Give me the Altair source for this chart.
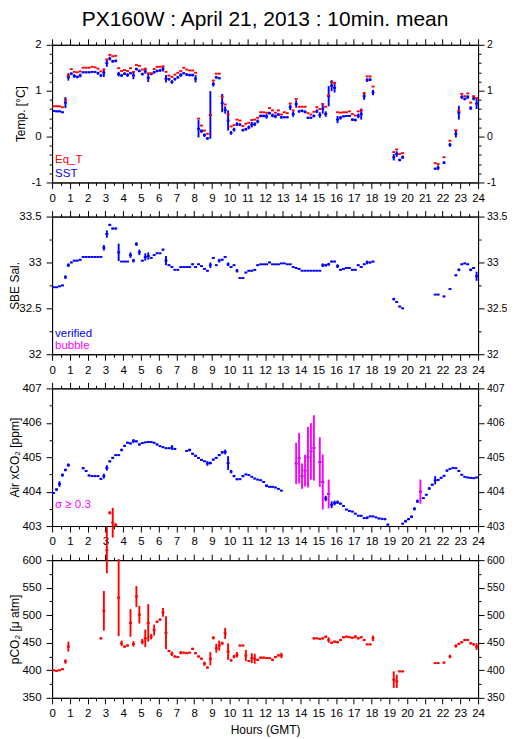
import altair as alt
import pandas as pd

FONT = "Liberation Sans"
BLUE = "#0000ff"
RED = "#ff0000"
MAGENTA = "#ff00ff"
SW = 1.9

TITLE = "PX160W : April 21, 2013 : 10min. mean"
X_TITLE = "Hours (GMT)"

# ---- 10-minute bins (bin k starts k*10 minutes after 00:00 GMT) ----
ts_bins = list(range(0, 109)) + [115, 116, 117, 118, 129, 130, 132, 134] + list(range(136, 144))

sst = [
    0.56, 0.55, 0.55, 0.53, 0.74, 1.30, 1.37, 1.32, 1.30, 1.33,
    1.40, 1.40, 1.40, 1.41, 1.41, 1.38, 1.33, 1.39, 1.60, 1.70,
    1.64, 1.65, 1.36, 1.33, 1.37, 1.34, 1.38, 1.33, 1.47, 1.43,
    1.36, 1.42, 1.28, 1.36, 1.40, 1.43, 1.44, 1.47, 1.26, 1.25,
    1.19, 1.25, 1.29, 1.34, 1.38, 1.35, 1.34, 1.34, 1.26, 0.17,
    0.12, 0.03, -0.04, 0.47, 1.14, 1.29, 1.27, 0.73, 0.58, 0.35,
    0.08, 0.15, 0.27, 0.26, 0.14, 0.16, 0.20, 0.26, 0.27, 0.33,
    0.45, 0.45, 0.44, 0.51, 0.46, 0.44, 0.48, 0.42, 0.42, 0.42,
    0.64, 0.49, 0.71, 0.55, 0.56, 0.54, 0.41, 0.41, 0.45, 0.55,
    0.47, 0.61, 0.49, 0.88, 1.11, 1.06, 0.37, 0.41, 0.44, 0.45,
    0.45, 0.37, 0.36, 0.45, 0.49, 0.88, 1.23, 1.24, 0.96,
    -0.45, -0.38, -0.51, -0.45,
    -0.70, -0.68, -0.57, -0.18,
    0.06, 0.52, 0.86, 0.82, 0.86, 0.62, 0.83, 0.72,
]
sst_sd = [
    .02, .02, .02, .02, .12, .08, .03, .04, .03, .04,
    .02, .02, .02, .02, .02, .03, .03, .09, .08, .04,
    .03, .03, .05, .03, .03, .04, .02, .08, .03, .03,
    .03, .05, .09, .02, .03, .03, .03, .05, .08, .03,
    .04, .03, .03, .04, .02, .03, .03, .03, .08, .19,
    .04, .04, .03, .52, .05, .03, .02, .20, .08, .22,
    .04, .04, .04, .03, .03, .03, .04, .06, .04, .04,
    .03, .03, .05, .03, .04, .04, .03, .03, .02, .02,
    .06, .06, .08, .03, .03, .03, .02, .02, .03, .04,
    .06, .11, .06, .22, .12, .10, .08, .04, .02, .02,
    .02, .03, .03, .05, .12, .08, .04, .03, .06,
    .07, .06, .03, .04,
    .02, .05, .03, .04,
    .08, .15, .04, .03, .04, .04, .04, .12,
]
eq_t = [
    0.66, 0.66, 0.66, 0.64, 0.80, 1.33, 1.47, 1.41, 1.40, 1.42,
    1.50, 1.50, 1.50, 1.52, 1.51, 1.48, 1.42, 1.46, 1.68, 1.78,
    1.75, 1.76, 1.49, 1.43, 1.45, 1.43, 1.49, 1.41, 1.56, 1.54,
    1.46, 1.48, 1.38, 1.38, 1.47, 1.52, 1.52, 1.53, 1.41, 1.33,
    1.30, 1.35, 1.39, 1.43, 1.50, 1.46, 1.44, 1.44, 1.39, 0.39,
    0.24, 0.13, 0.06, 0.47, 1.22, 1.37, 1.37, 0.87, 0.70, 0.48,
    0.22, 0.25, 0.37, 0.35, 0.23, 0.28, 0.30, 0.36, 0.37, 0.41,
    0.53, 0.53, 0.52, 0.62, 0.57, 0.52, 0.57, 0.48, 0.53, 0.51,
    0.72, 0.57, 0.82, 0.65, 0.65, 0.65, 0.51, 0.48, 0.54, 0.64,
    0.60, 0.71, 0.65, 0.90, 1.19, 1.17, 0.53, 0.52, 0.53, 0.53,
    0.55, 0.49, 0.46, 0.55, 0.58, 0.95, 1.31, 1.31, 1.09,
    -0.34, -0.28, -0.38, -0.36,
    -0.58, -0.60, -0.45, -0.09,
    0.14, 0.56, 0.93, 0.88, 0.94, 0.74, 0.88, 0.84,
]

sal = [
    32.73, 32.73, 32.74, 32.75, 32.84, 32.97, 33.00, 33.02, 33.02, 33.03,
    33.06, 33.06, 33.06, 33.06, 33.06, 33.06, 33.06, 33.16, 33.31, 33.41,
    33.37, 33.37, 33.11, 33.01, 33.01, 33.01, 33.08, 33.02, 33.20, 33.11,
    33.02, 33.06, 33.07, 33.05, 33.08, 33.10, 33.10, 33.14, 33.02, 32.97,
    32.95, 32.92, 32.92, 32.95, 32.95, 32.95, 32.95, 32.98, 32.95, 32.98,
    32.96, 32.93, 32.91, 32.97, 33.05, 32.97, 33.02, 33.03, 33.06, 32.98,
    32.95, 32.97, 32.91, 32.83, 32.83, 32.89, 32.91, 32.91, 32.92, 32.97,
    32.98, 32.98, 32.98, 33.00, 32.98, 32.98, 32.98, 32.99, 32.99, 32.98,
    32.98, 32.95, 32.94, 32.93, 32.91, 32.91, 32.91, 32.91, 32.91, 32.91,
    32.91, 32.97, 32.97, 32.98, 33.01, 33.01, 32.96, 32.92, 32.93, 32.94,
    32.94, 32.92, 32.92, 32.97, 32.95, 32.98, 33.00, 33.00, 33.01,
    32.60, 32.57, 32.52, 32.50,
    32.65, 32.65, 32.63, 32.71,
    32.86, 32.92, 32.98, 32.99, 32.98, 32.92, 32.94, 32.85,
]
sal_sd = [
    .004, .004, .004, .008, .02, .02, .008, .008, .008, .008,
    .004, .004, .004, .004, .004, .004, .004, .03, .04, .01,
    .01, .01, .095, .004, .004, .004, .03, .02, .02, .03,
    .008, .04, .04, .008, .008, .008, .004, .01, .05, .008,
    .008, .004, .004, .004, .004, .004, .004, .01, .008, .008,
    .008, .008, .008, .03, .008, .008, .02, .01, .01, .02,
    .008, .008, .02, .008, .004, .008, .008, .008, .008, .008,
    .004, .004, .004, .008, .004, .004, .004, .004, .004, .004,
    .004, .008, .008, .008, .004, .004, .004, .004, .004, .004,
    .004, .02, .015, .015, .01, .008, .02, .008, .004, .004,
    .004, .008, .004, .008, .008, .008, .02, .01, .008,
    .015, .01, .008, .008,
    .004, .004, .008, .01,
    .01, .015, .008, .008, .008, .015, .01, .05,
]

xco2_bins = (list(range(0, 6)) + list(range(10, 42)) + list(range(45, 78))
             + list(range(82, 89)) + list(range(90, 114)) + list(range(118, 144)))
xco2 = [
    403.96, 404.06, 404.22, 404.48, 404.63, 404.77,
    404.68, 404.60, 404.47, 404.45, 404.45, 404.45, 404.37, 404.45, 404.69, 404.88,
    404.98, 405.06, 405.06, 405.21, 405.33, 405.42, 405.40, 405.47, 405.46, 405.37,
    405.41, 405.43, 405.44, 405.44, 405.42, 405.37, 405.32, 405.29, 405.26, 405.26,
    405.28, 405.24,
    405.18, 405.21, 405.10, 405.04, 404.98, 404.92, 404.88, 404.82, 404.83, 404.93,
    404.98, 405.06, 405.14, 405.15, 404.83, 404.58, 404.45, 404.36, 404.36, 404.45,
    404.50, 404.48, 404.43, 404.38, 404.35, 404.33, 404.28, 404.17, 404.14, 404.14,
    404.12, 404.08, 404.03,
    404.82, 404.97, 404.45, 404.61, 405.00, 405.17, 405.27,
    404.86, 404.28, 403.80, 403.93, 403.62, 403.67, 403.69, 403.65, 403.58, 403.48,
    403.44, 403.42, 403.36, 403.30, 403.30, 403.23, 403.24, 403.28, 403.28, 403.25,
    403.22, 403.21, 403.20, 403.04,
    403.07, 403.14, 403.20, 403.27, 403.50, 403.72, 404.00, 403.81, 403.91, 404.09,
    404.20, 404.33, 404.34, 404.40, 404.46, 404.61, 404.66, 404.69, 404.68, 404.60,
    404.49, 404.43, 404.41, 404.40, 404.39, 404.41,
]
xco2_sd = [
    .03, .04, .08, .05, .04, .05,
    .03, .03, .03, .02, .02, .02, .03, .07, .08, .03,
    .03, .02, .02, .04, .03, .03, .03, .06, .03, .03,
    .02, .02, .02, .02, .02, .03, .02, .02, .02, .02,
    .07, .03,
    .02, .04, .03, .03, .02, .03, .02, .07, .04, .03,
    .03, .03, .04, .07, .20, .05, .03, .03, .02, .03,
    .02, .02, .02, .02, .02, .02, .02, .04, .02, .02,
    .02, .02, .02,
    .60, .73, .37, .46, .88, .82, .95,
    .72, .80, .08, .42, .10, .07, .05, .03, .02, .02,
    .02, .02, .02, .02, .02, .02, .04, .02, .02, .02,
    .02, .02, .03, .03,
    .02, .04, .03, .04, .05, .05, .35, .02, .02, .04,
    .03, .12, .03, .03, .02, .03, .02, .02, .02, .03,
    .02, .02, .02, .02, .02, .02,
]

pco2_bins = (list(range(0, 6)) + list(range(16, 78)) + list(range(88, 109))
             + [115, 116, 117, 118, 129, 130, 132, 134] + list(range(136, 144)))
pco2 = [
    400, 399, 400, 402, 416, 443,
    458, 508, 618, 686, 668, 664, 532, 449, 443, 445,
    486, 448, 534, 501, 452, 458, 486, 461, 473, 488,
    492, 505, 468, 435, 430, 425, 424, 432, 432, 431,
    432, 439, 431, 425, 421, 412, 405, 421, 459, 440,
    445, 449, 467, 434, 418, 425, 428, 445, 445, 427,
    417, 422, 421, 419, 423, 423, 422, 422, 419, 424,
    427, 427,
    458, 458, 457, 458, 461, 455, 450, 452, 451, 455,
    460, 461, 460, 459, 461, 458, 460, 455, 447, 447, 458,
    383, 380, 398, 398,
    413, 413, 414, 425,
    444, 448, 451, 455, 455, 449, 447, 443,
]
pco2_sd = [
    1.5, 1.5, 1.5, 2, 4, 9,
    2, 36, 42, 3, 27, 3, 70, 5, 2, 2,
    25, 5, 19, 16, 5, 16, 34, 5, 10, 2,
    2, 8, 30, 2, 4, 2, 1.5, 3, 1.5, 1.5,
    1.5, 2, 2, 2, 2, 4, 2, 12, 3, 8,
    9, 3, 10, 15, 2, 3, 5, 1.5, 1.5, 10,
    1.5, 9, 9, 2, 2, 2, 1.5, 1.5, 2, 2,
    2, 5,
    2, 1.5, 1.5, 2, 2, 5, 2, 2, 2, 2,
    2, 2, 1.5, 2, 3, 2, 2, 2, 1.5, 1.5, 5,
    15, 12, 1.5, 1.5,
    1, 1, 1.5, 3,
    3, 2, 2, 2, 2, 2, 2, 6,
]

# axis tick values
hour_ticks = [i / 2 for i in range(49)]
temp_ticks = [round(-1 + 0.2 * i, 1) for i in range(16)]
sal_ticks = [32 + 0.25 * i for i in range(7)]
xco2_ticks = [403 + 0.5 * i for i in range(9)]
pco2_ticks = [350 + 25 * i for i in range(11)]


def frame(bins, vals, sds):
    df = pd.DataFrame({"k": bins, "v": vals, "sd": sds})
    df["t0"] = df.k / 6
    df["t1"] = (df.k + 1) / 6
    df["tc"] = (df.k + 0.5) / 6
    df["lo"] = df.v - df.sd
    df["hi"] = df.v + df.sd
    return df


W, H = 427, 138
INT_T = "abs(datum.value - round(datum.value)) < 1e-6"
HALF_T = "abs(datum.value * 2 - round(datum.value * 2)) < 1e-6"
FIFTY_T = "datum.value % 50 === 0"

COMMON = dict(grid=False, labelOverlap=False, labelFlush=False, domainColor="black",
              tickColor="black", labelColor="black", labelFont=FONT,
              titleFont=FONT, titleFontSize=12, titleFontWeight="normal", titleColor="black",
              domainWidth=1, tickWidth=1)


def tsize(test):
    return {"condition": {"test": test, "value": 6}, "value": 3}


def lexpr(test):
    return f"({test}) ? '' + datum.value : ''"


def xaxis(orient, labels, title=None):
    kw = dict(COMMON)
    if title:
        kw.update(title=title, titleX=W / 2, titleY=36, titleBaseline="alphabetic",
                  titleAlign="center", titleAngle=0)
    else:
        kw.update(title=None)
    return alt.Axis(orient=orient, values=hour_ticks, labels=labels, labelExpr=lexpr(INT_T),
                    tickSize=tsize(INT_T), labelPadding=4, labelFontSize=11.5, **kw)


def yaxis(orient, values, test, title=None, tx=0):
    kw = dict(COMMON)
    if orient == "left":
        kw.update(title=title, titleX=tx, titleY=H / 2, titleAngle=270, titleAlign="center",
                  titleBaseline="middle", labelPadding=5, labelFontSize=11.5)
    else:
        kw.update(title=None, labelPadding=2.5, labelFontSize=10.5)
    return alt.Axis(orient=orient, values=values, labelExpr=lexpr(test), tickSize=tsize(test), **kw)


xs = alt.Scale(domain=[0, 24], nice=False, zero=False)


def hbar(df, ys, color, axes, ytitle=None, yvals=None, ytest=None, tx=0, xtitle=None):
    if axes:
        xa = xaxis("bottom", True, xtitle)
        ya = yaxis("left", yvals, ytest, ytitle, tx)
    else:
        xa = None
        ya = None
    return alt.Chart(df).mark_rule(color=color, strokeWidth=SW).encode(
        x=alt.X("t0:Q", scale=xs, axis=xa), x2="t1:Q",
        y=alt.Y("v:Q", scale=ys, axis=ya))


def vbar(df, ys, color, yvals, ytest):
    return alt.Chart(df).mark_rule(strokeWidth=SW).encode(
        x=alt.X("tc:Q", scale=xs, axis=xaxis("top", False)),
        y=alt.Y("lo:Q", scale=ys, axis=yaxis("right", yvals, ytest)), y2="hi:Q",
        color=color)


def label(txt, color, y):
    return alt.Chart(pd.DataFrame({"t": [txt]})).mark_text(
        align="left", baseline="alphabetic", font=FONT, fontSize=11.5, color=color
    ).encode(x=alt.value(3), y=alt.value(y), text="t:N")


# ---- panel 1: temperature ----
ys_t = alt.Scale(domain=[-1, 2], nice=False, zero=False)
sst_df = frame(ts_bins, sst, sst_sd)
eq_df = frame(ts_bins, eq_t, [0] * len(eq_t))
p1 = alt.layer(
    hbar(sst_df, ys_t, BLUE, True, "Temp. [°C]", temp_ticks, INT_T, -32),
    vbar(sst_df, ys_t, alt.value(BLUE), temp_ticks, INT_T),
    hbar(eq_df, ys_t, RED, False),
    label("Eq_T", RED, 118.7),
    label("SST", BLUE, 132.7),
).resolve_axis(x="independent", y="independent").properties(width=W, height=H)

# ---- panel 2: salinity ----
ys_s = alt.Scale(domain=[32, 33.5], nice=False, zero=False)
sal_df = frame(ts_bins, sal, sal_sd)
p2 = alt.layer(
    hbar(sal_df, ys_s, BLUE, True, "SBE Sal.", sal_ticks, HALF_T, -37.5),
    vbar(sal_df, ys_s, alt.value(BLUE), sal_ticks, HALF_T),
    label("verified", BLUE, 120.3),
    label("bubble", MAGENTA, 132.3),
).resolve_axis(x="independent", y="independent").properties(width=W, height=H)

# ---- panel 3: air xCO2 ----
ys_a = alt.Scale(domain=[403, 407], nice=False, zero=False)
xco2_df = frame(xco2_bins, xco2, xco2_sd)
p3 = alt.layer(
    hbar(xco2_df, ys_a, BLUE, True, "Air xCO₂ [ppm]", xco2_ticks, INT_T, -37.5),
    vbar(xco2_df, ys_a, alt.condition("datum.sd >= 0.3", alt.value(MAGENTA), alt.value(BLUE)),
         xco2_ticks, INT_T),
    label("σ ≥ 0.3", MAGENTA, 119.7),
).resolve_axis(x="independent", y="independent").properties(width=W, height=H)

# ---- panel 4: pCO2 ----
ys_p = alt.Scale(domain=[350, 600], nice=False, zero=False)
pco2_df = frame(pco2_bins, pco2, pco2_sd)
p4 = alt.layer(
    hbar(pco2_df, ys_p, RED, True, "pCO₂ [μ atm]", pco2_ticks, FIFTY_T, -37.5, X_TITLE),
    vbar(pco2_df, ys_p, alt.value(RED), pco2_ticks, FIFTY_T),
).resolve_axis(x="independent", y="independent").properties(width=W, height=H)

chart = alt.vconcat(p1, p2, p3, p4, spacing=34.2, bounds="flush").properties(
    title=alt.TitleParams(TITLE, font=FONT, fontSize=21, fontWeight="normal", color="black",
                          anchor="middle", frame="group", baseline="alphabetic", offset=-9.2),
    padding={"left": 0.2, "top": 0, "right": -1, "bottom": 0},
).configure_view(stroke="black", strokeWidth=1)

chart.save("out.html", embed_options={"renderer": "svg", "actions": False})
